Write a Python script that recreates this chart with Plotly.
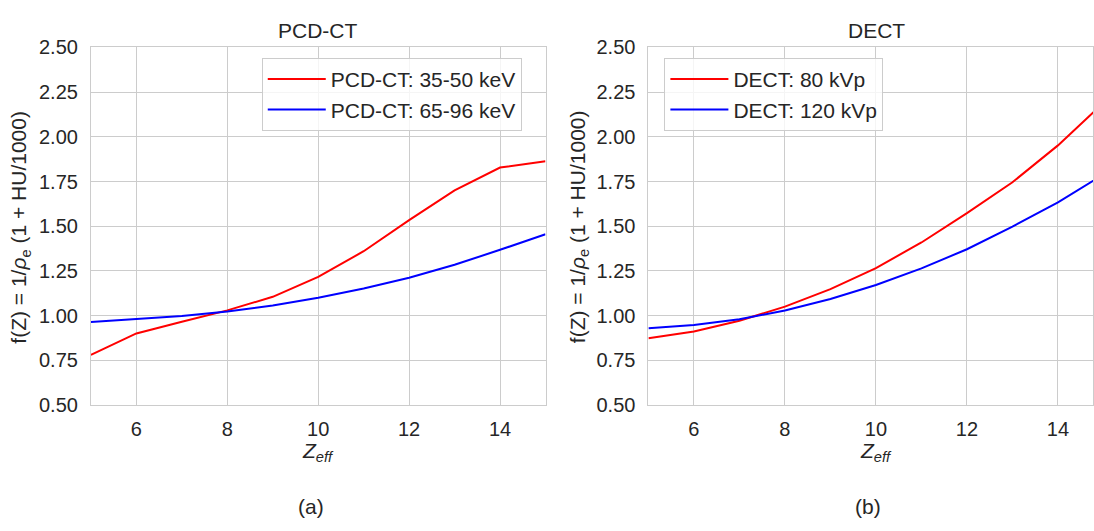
import plotly.graph_objects as go
from plotly.subplots import make_subplots

# Effective atomic number sampled on integer steps
z_eff = [5, 6, 7, 8, 9, 10, 11, 12, 13, 14, 15]

# PCD-CT energy bins
pcd_low = [0.78, 0.90, 0.966, 1.029, 1.105, 1.216, 1.36, 1.534, 1.70, 1.828, 1.863]
pcd_high = [0.964, 0.982, 0.998, 1.023, 1.057, 1.10, 1.152, 1.212, 1.284, 1.368, 1.455]

# DECT tube voltages
dect_80 = [0.873, 0.911, 0.971, 1.05, 1.148, 1.266, 1.409, 1.573, 1.746, 1.952, 2.19]
dect_120 = [0.929, 0.948, 0.979, 1.029, 1.093, 1.171, 1.264, 1.371, 1.498, 1.633, 1.79]

y_ticks = [0.50, 0.75, 1.00, 1.25, 1.50, 1.75, 2.00, 2.25, 2.50]
x_ticks = [6, 8, 10, 12, 14]

W, H = 1094, 531
FONT = "Liberation Sans, Arial, sans-serif"
TXT = "#262626"
GRID = "#cccccc"
RED = "#ff0000"
BLUE = "#0000ff"
TICK_SIZE = 20
TEXT_SIZE = 21


def px(v):
    return v / W


def py(v):
    return 1 - v / H


fig = make_subplots(rows=1, cols=2)

fig.add_trace(go.Scatter(x=z_eff, y=pcd_low, mode="lines", name="PCD-CT: 35-50 keV",
                         line=dict(color=RED, width=2), legend="legend"), row=1, col=1)
fig.add_trace(go.Scatter(x=z_eff, y=pcd_high, mode="lines", name="PCD-CT: 65-96 keV",
                         line=dict(color=BLUE, width=2), legend="legend"), row=1, col=1)
fig.add_trace(go.Scatter(x=z_eff, y=dect_80, mode="lines", name="DECT: 80 kVp",
                         line=dict(color=RED, width=2), legend="legend2"), row=1, col=2)
fig.add_trace(go.Scatter(x=z_eff, y=dect_120, mode="lines", name="DECT: 120 kVp",
                         line=dict(color=BLUE, width=2), legend="legend2"), row=1, col=2)

axis_common = dict(showgrid=True, gridcolor=GRID, gridwidth=1, showline=True, linecolor=GRID,
                   linewidth=1, mirror=True, zeroline=False, ticks="",
                   tickfont=dict(family=FONT, size=TICK_SIZE, color=TXT))

fig.update_xaxes(**axis_common, tickvals=x_ticks, ticklabelstandoff=6)
fig.update_yaxes(**axis_common, tickvals=y_ticks, tickformat=".2f", range=[0.5, 2.5],
                 ticklabelstandoff=8)

legend_style = dict(xanchor="left", yanchor="top", itemwidth=58,
                    bgcolor="rgba(255,255,255,0.8)", bordercolor=GRID, borderwidth=1,
                    font=dict(family=FONT, size=TEXT_SIZE, color=TXT))

fig.update_layout(
    width=W, height=H,
    margin=dict(l=0, r=0, t=0, b=0),
    paper_bgcolor="white", plot_bgcolor="white",
    showlegend=True,
    xaxis=dict(domain=[px(91), px(546)], range=[5, 15]),
    xaxis2=dict(domain=[px(649), 1.0], range=[5, 14.77]),
    yaxis=dict(domain=[py(411), py(38)]),
    yaxis2=dict(domain=[py(411), py(38)]),
    legend=dict(x=px(262), y=py(49), **legend_style),
    legend2=dict(x=px(665), y=py(49), **legend_style),
)

ytitle = "f(Z) = 1/<i>ρ</i><sub>e</sub> (1 + HU/1000)"
xtitle = "<i>Z<sub>eff</sub></i>"

annotations = [
    dict(text="PCD-CT", x=px(318), y=py(20)),
    dict(text="DECT", x=px(877), y=py(20)),
    dict(text=ytitle, x=px(20), y=py(225), textangle=-90),
    dict(text=ytitle, x=px(579), y=py(225), textangle=-90),
    dict(text=xtitle, x=px(318), y=py(460)),
    dict(text=xtitle, x=px(877), y=py(460)),
    dict(text="(a)", x=px(311), y=py(517)),
    dict(text="(b)", x=px(869), y=py(517)),
]
for a in annotations:
    fig.add_annotation(xref="paper", yref="paper", showarrow=False,
                       xanchor="center", yanchor="middle",
                       font=dict(family=FONT, size=TEXT_SIZE, color=TXT),
                       **a)

fig.write_html("out.html")
